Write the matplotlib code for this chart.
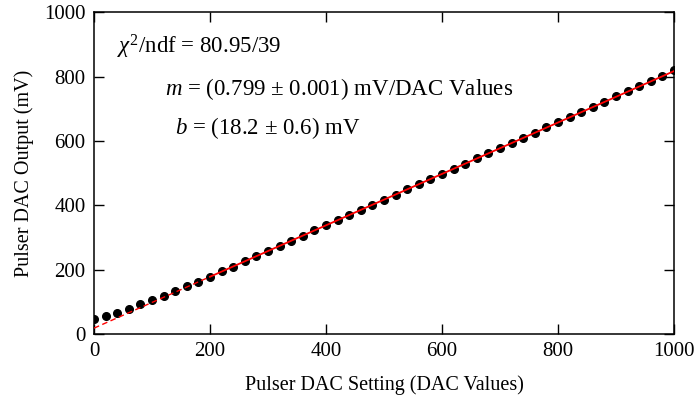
import numpy as np
import matplotlib
matplotlib.use('Agg')
import matplotlib.pyplot as plt

plt.rcParams['font.family'] = ['Liberation Serif', 'DejaVu Serif']
plt.rcParams['mathtext.fontset'] = 'custom'
plt.rcParams['mathtext.rm'] = 'Liberation Serif'
plt.rcParams['mathtext.it'] = 'Liberation Serif:italic'

# pulser scan: DAC setting vs measured output
dac = [0, 20, 40, 60, 80, 100, 120, 140, 160, 180,
       200, 220, 240, 260, 280, 300, 320, 340, 360, 380,
       400, 420, 440, 460, 480, 500, 520, 540, 560, 580,
       600, 620, 640, 660, 680, 700, 720, 740, 760, 780,
       800, 820, 840, 860, 880, 900, 920, 940, 960, 980, 1000]
out_mv = [45.7, 56.0, 64.3, 76.8, 92.3, 105.7, 119.0, 133.7, 149.0, 162.6,
          178.5, 194.6, 209.4, 226.3, 241.5, 258.4, 273.6, 290.2, 305.4, 322.3,
          337.5, 354.2, 369.4, 386.1, 401.3, 418.0, 433.4, 450.1, 465.2, 482.0,
          497.3, 514.0, 529.2, 546.1, 561.2, 578.0, 593.1, 610.0, 625.6, 642.3,
          657.8, 674.5, 690.0, 706.4, 722.1, 738.5, 754.2, 770.6, 786.4, 802.8, 820.0]

# linear fit result (fit range 200-1000)
m = 0.799
m_err = 0.001
b = 18.2
b_err = 0.6
chi2 = 80.95
ndf = 39
fit_lo, fit_hi = 200, 1000

fig = plt.figure(figsize=(6.98, 4.01), dpi=100)
ax = fig.add_axes([94 / 698, 67 / 401, 580 / 698, 321.7 / 401])

ax.plot(dac, out_mv, 'o', color='black', markersize=5.5, zorder=2)

xs = np.array([fit_lo, fit_hi])
ax.plot(xs, m * xs + b, '-', color='red', lw=1.3, zorder=3)
xd = np.array([0, fit_lo])
ax.plot(xd, m * xd + b, '--', color='red', lw=1.0, dashes=(4, 2.5), zorder=3)

ax.set_xlim(0, 1000)
ax.set_ylim(0, 1000)
ax.set_xticks([0, 200, 400, 600, 800, 1000])
ax.set_yticks([0, 200, 400, 600, 800, 1000])
ax.tick_params(direction='in', length=7, width=1, top=True, right=True,
               labelsize=15, pad=6)
for s in ax.spines.values():
    s.set_linewidth(1.1)

ax.set_xlabel('Pulser DAC Setting (DAC Values)', fontsize=14.5, labelpad=10)
ax.set_ylabel('Pulser DAC Output (mV)', fontsize=14.5, labelpad=7)

ax.text(0.04, 0.892, r'$\chi^2$/ndf = %.2f/%d' % (chi2, ndf),
        transform=ax.transAxes, fontsize=16.5, va='center', ha='left')
ax.text(0.122, 0.762, r'$m$ = (%.3f ± %.3f) mV/DAC Values' % (m, m_err),
        transform=ax.transAxes, fontsize=16.5, va='center', ha='left')
ax.text(0.14, 0.64, r'$b$ = (%.1f ± %.1f) mV' % (b, b_err),
        transform=ax.transAxes, fontsize=16.5, va='center', ha='left')

fig.savefig('out.png', dpi=100)
